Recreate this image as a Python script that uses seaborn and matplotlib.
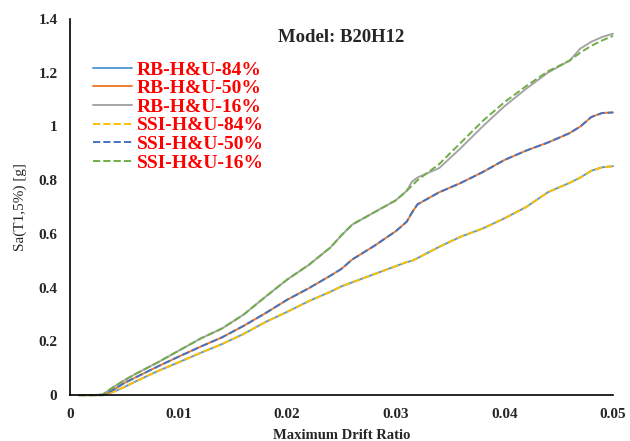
import numpy as np
import pandas as pd
import matplotlib
matplotlib.use("Agg")
import matplotlib.pyplot as plt
import seaborn as sns

# data
drift = [0.0008, 0.002, 0.003, 0.004, 0.005, 0.006, 0.008, 0.010, 0.012, 0.014,
         0.016, 0.018, 0.020, 0.022, 0.024, 0.025, 0.026, 0.028, 0.030, 0.031,
         0.0315, 0.032, 0.034, 0.036, 0.038, 0.040, 0.042, 0.044, 0.046, 0.047,
         0.048, 0.049, 0.050]

rb_84 = [0, 0, 0, 0.012, 0.03, 0.05, 0.088, 0.122, 0.157, 0.19,
         0.228, 0.272, 0.31, 0.35, 0.385, 0.405, 0.42, 0.45, 0.48, 0.495,
         0.50, 0.51, 0.552, 0.59, 0.62, 0.658, 0.70, 0.755, 0.79, 0.81,
         0.835, 0.848, 0.852]
rb_50 = [0, 0, 0, 0.02, 0.045, 0.065, 0.105, 0.143, 0.18, 0.215,
         0.258, 0.305, 0.355, 0.398, 0.445, 0.47, 0.505, 0.555, 0.61, 0.645,
         0.68, 0.71, 0.755, 0.79, 0.83, 0.875, 0.91, 0.94, 0.975, 1.0,
         1.035, 1.05, 1.052]
rb_16 = [0, 0, 0.002, 0.03, 0.055, 0.078, 0.12, 0.165, 0.21, 0.248,
         0.30, 0.366, 0.43, 0.485, 0.55, 0.595, 0.635, 0.68, 0.725, 0.76,
         0.795, 0.81, 0.845, 0.92, 1.0, 1.075, 1.14, 1.20, 1.245, 1.29,
         1.315, 1.333, 1.345]

ssi_84 = [0, 0, 0, 0.012, 0.03, 0.05, 0.088, 0.122, 0.157, 0.19,
          0.228, 0.272, 0.31, 0.35, 0.385, 0.405, 0.42, 0.45, 0.48, 0.495,
          0.50, 0.51, 0.552, 0.59, 0.62, 0.658, 0.70, 0.755, 0.79, 0.81,
          0.835, 0.848, 0.852]
ssi_50 = [0, 0, 0, 0.02, 0.045, 0.065, 0.105, 0.143, 0.18, 0.215,
          0.258, 0.305, 0.355, 0.398, 0.445, 0.47, 0.505, 0.555, 0.61, 0.645,
          0.68, 0.71, 0.755, 0.79, 0.83, 0.875, 0.91, 0.94, 0.975, 1.0,
          1.035, 1.05, 1.052]
ssi_16 = [0, 0, 0.002, 0.03, 0.055, 0.078, 0.12, 0.165, 0.21, 0.248,
          0.30, 0.366, 0.43, 0.485, 0.55, 0.595, 0.635, 0.68, 0.725, 0.76,
          0.78, 0.80, 0.86, 0.94, 1.02, 1.09, 1.15, 1.205, 1.245, 1.275,
          1.30, 1.32, 1.337]

labels = ["RB-H&U-84%", "RB-H&U-50%", "RB-H&U-16%",
          "SSI-H&U-84%", "SSI-H&U-50%", "SSI-H&U-16%"]
series = [rb_84, rb_50, rb_16, ssi_84, ssi_50, ssi_16]
colors = ["#5B9BD5", "#ED7D31", "#A5A5A5", "#FFC000", "#4472C4", "#70AD47"]
styles = ["-", "-", "-", "--", "--", "--"]

x_ticks = [0, 0.01, 0.02, 0.03, 0.04, 0.05]
y_ticks = [0, 0.2, 0.4, 0.6, 0.8, 1.0, 1.2, 1.4]

sns.set_style("white")
plt.rcParams["font.family"] = ["Liberation Serif", "DejaVu Serif"]

fig = plt.figure(figsize=(6.3, 4.41), dpi=100)
ax = fig.add_axes([0.111, 0.104, 0.862, 0.853])

for lab, vals, c, ls in zip(labels, series, colors, styles):
    sns.lineplot(x=drift, y=vals, ax=ax, color=c, linestyle=ls,
                 linewidth=1.4, label=lab, clip_on=False)

ax.set_xlim(0, 0.05)
ax.set_ylim(0, 1.4)
ax.set_xticks(x_ticks)
ax.set_yticks(y_ticks)
ax.set_xticklabels([f"{v:g}" for v in x_ticks], fontweight="bold", fontsize=11)
ax.set_yticklabels([f"{v:g}" for v in y_ticks], fontweight="bold", fontsize=11)
ax.tick_params(direction="in", length=4, width=1, color="black", pad=9)

for s in ["top", "right"]:
    ax.spines[s].set_visible(False)
for s in ["left", "bottom"]:
    ax.spines[s].set_color("black")
    ax.spines[s].set_linewidth(1.2)

ax.set_xlabel("Maximum Drift Ratio", fontweight="bold", fontsize=10.5, labelpad=6)
ax.set_ylabel("Sa(T1,5%) [g]", fontsize=11, labelpad=8)
ax.text(0.5, 0.95, "Model: B20H12", transform=ax.transAxes, ha="center",
        va="center", fontweight="bold", fontsize=13.5)

leg = ax.legend(loc="upper left", bbox_to_anchor=(0.042, 0.888), frameon=False,
                fontsize=14, handlelength=2.0, handletextpad=0.25,
                labelspacing=0.05, borderaxespad=0, borderpad=0)
for t in leg.get_texts():
    t.set_color("red")
    t.set_fontweight("bold")

plt.savefig("out.png", dpi=100)
